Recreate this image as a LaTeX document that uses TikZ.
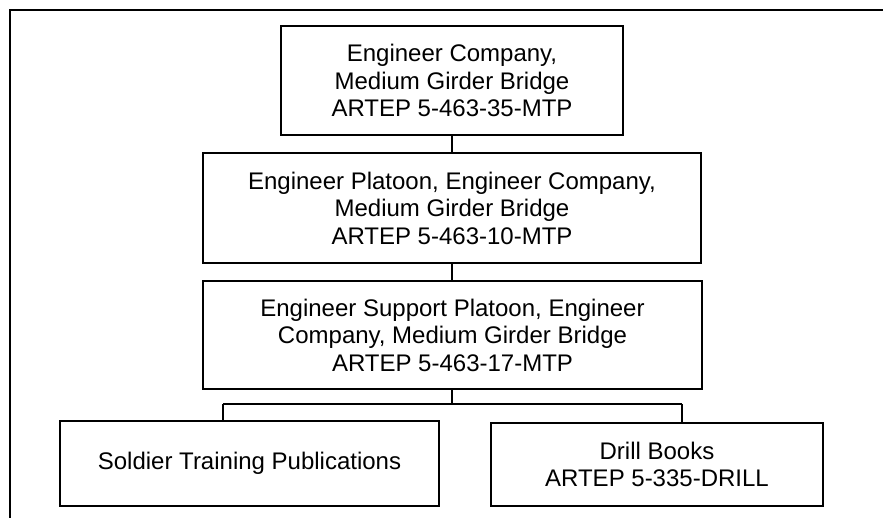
\documentclass[tikz,border=0pt]{standalone}
\usepackage{fontspec}
\setmainfont{Liberation Sans}
\begin{document}
\begin{tikzpicture}[x=1pt,y=-1pt,
  box/.style={draw, line width=1.6pt, align=center, inner sep=0pt,
    font=\fontsize{24}{27.5}\selectfont},
  conn/.style={line width=1.6pt}]
\useasboundingbox (0,0) rectangle (883,518);
% outer frame (top and left only)
\coordinate (fl) at (10,518);
\coordinate (fc) at (10,10);
\coordinate (fr) at (883,10);
\draw[line width=2pt] (fl) -- (fc) -- (fr);
\node[box, minimum width=342pt, minimum height=109pt] (b1) at (452,80.5)
  {Engineer Company,\\Medium Girder Bridge\\ARTEP 5-463-35-MTP};
\node[box, minimum width=498pt, minimum height=110pt] (b2) at (452,208)
  {Engineer Platoon, Engineer Company,\\Medium Girder Bridge\\ARTEP 5-463-10-MTP};
\node[box, minimum width=499pt, minimum height=108pt] (b3) at (452.5,335)
  {Engineer Support Platoon, Engineer\\Company, Medium Girder Bridge\\ARTEP 5-463-17-MTP};
\node[box, minimum width=379pt, minimum height=85pt] (b4) at (249.5,463.5)
  {Soldier Training Publications};
\node[box, minimum width=332pt, minimum height=83pt] (b5) at (657,464.5)
  {Drill Books\\ARTEP 5-335-DRILL};
\coordinate (j) at (452,404);
\coordinate (jl) at (223,404);
\coordinate (jr) at (682,404);
\draw[conn] (j |- b1.south) -- (j |- b2.north);
\draw[conn] (j |- b2.south) -- (j |- b3.north);
\draw[conn] (j |- b3.south) -- (j);
\draw[conn] (jl) -- (jr);
\draw[conn] (jl) -- (jl |- b4.north);
\draw[conn] (jr) -- (jr |- b5.north);
\end{tikzpicture}
\end{document}
